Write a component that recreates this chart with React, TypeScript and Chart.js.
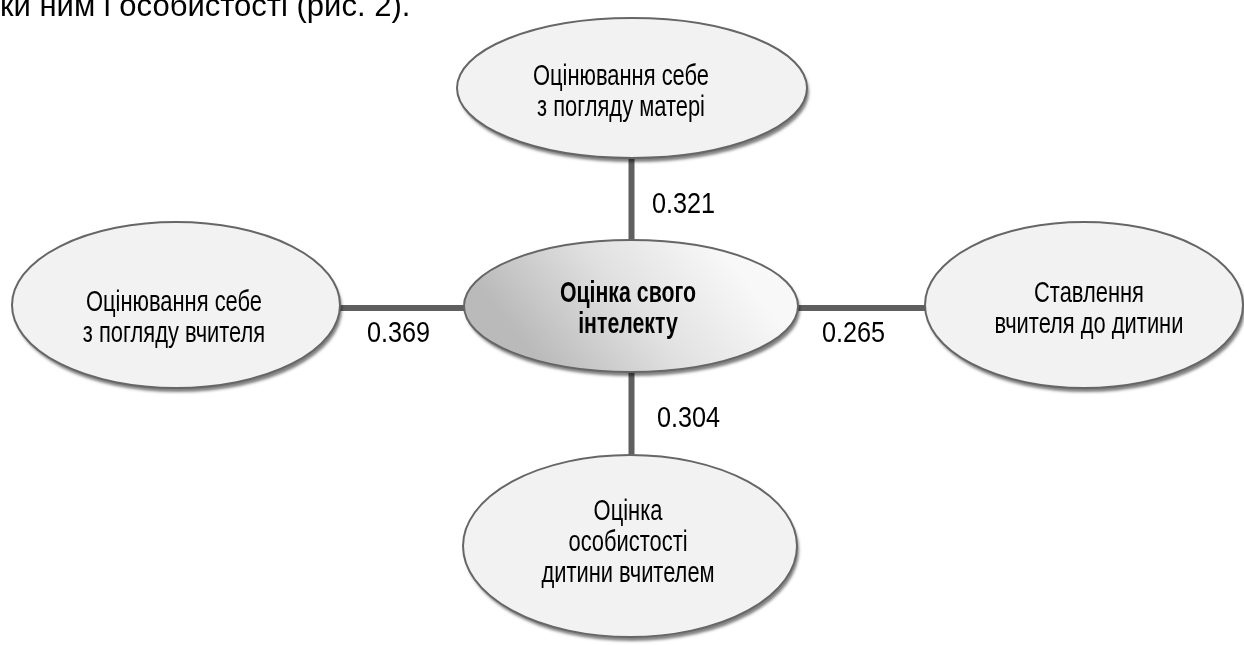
import React, { useEffect, useRef } from "react";
import { Chart, registerables } from "chart.js";

Chart.register(...registerables);

// ---- data ----
const nodeLabels: string[][] = [
  ["Оцінка свого", "інтелекту"],
  ["Оцінювання себе", "з погляду матері"],
  ["Оцінювання себе", "з погляду вчителя"],
  ["Ставлення", "вчителя до дитини"],
  ["Оцінка", "особистості", "дитини вчителем"],
];
// correlation of node 0 (centre) with nodes 1..4
const coefficients = [0.321, 0.369, 0.265, 0.304];
const captionText = "ки ним і особистості (рис. 2).";

// ---- layout (chart units == page pixels) ----
const W = 1244;
const H = 645;
const nodeX = [631, 632, 176, 1084, 630];
const nodeY = [306, 88, 305, 305, 546];
const nodeRx = [167, 175, 164, 159, 167];
const nodeRy = [66, 70, 83, 83, 91];
const textX = [628, 621, 174, 1089, 628];
const textTop = [302, 85, 311, 302, 520];
const lineGap = 31;
const edgeFromX = [631.5, 465, 797, 631.5];
const edgeFromY = [306, 308, 308, 306];
const edgeToX = [631.5, 176, 1084, 631.5];
const edgeToY = [88, 308, 308, 546];
const labelX = [652, 367, 822, 657];
const labelY = [213, 342, 342, 427];

const FONT = "'Liberation Sans', Arial, Helvetica, sans-serif";

function drawText(
  ctx: CanvasRenderingContext2D,
  text: string,
  x: number,
  y: number,
  font: string,
  sx: number,
  align: CanvasTextAlign
) {
  ctx.save();
  ctx.font = font;
  ctx.fillStyle = "#000";
  ctx.textAlign = align;
  ctx.textBaseline = "alphabetic";
  ctx.translate(x, y);
  ctx.scale(sx, 1);
  ctx.fillText(text, 0, 0);
  ctx.restore();
}

const diagramPlugin = {
  id: "diagram",
  afterDatasetsDraw(chart: any) {
    const ctx: CanvasRenderingContext2D = chart.ctx;
    const xs = chart.scales.x;
    const ys = chart.scales.y;
    const px = (v: number) => xs.getPixelForValue(v);
    const py = (v: number) => ys.getPixelForValue(v);

    // caption fragment at top (cut off by the page edge)
    drawText(ctx, captionText, px(0), py(16), `31px ${FONT}`, 1.0, "left");

    nodeLabels.forEach((lines, i) => {
      const cx = px(nodeX[i]);
      const cy = py(nodeY[i]);
      const rx = Math.abs(px(nodeX[i] + nodeRx[i]) - cx);
      const ry = Math.abs(py(nodeY[i] + nodeRy[i]) - cy);

      let fill: any = "#f2f2f2";
      if (i === 0) {
        const g = ctx.createLinearGradient(cx + rx * 0.5, cy - ry, cx - rx * 0.5, cy + ry);
        g.addColorStop(0, "#f8f8f8");
        g.addColorStop(0.5, "#e0e0e0");
        g.addColorStop(1, "#bababa");
        fill = g;
      }

      ctx.save();
      ctx.beginPath();
      ctx.ellipse(cx, cy, rx, ry, 0, 0, Math.PI * 2);
      ctx.shadowColor = "rgba(0,0,0,0.5)";
      ctx.shadowOffsetX = 2;
      ctx.shadowOffsetY = 4;
      ctx.shadowBlur = 3;
      ctx.fillStyle = fill;
      ctx.fill();
      ctx.restore();

      ctx.save();
      ctx.beginPath();
      ctx.ellipse(cx, cy, rx, ry, 0, 0, Math.PI * 2);
      ctx.lineWidth = 2;
      ctx.strokeStyle = "#666666";
      ctx.stroke();
      ctx.restore();

      const font = i === 0 ? `bold 30px ${FONT}` : `30px ${FONT}`;
      const sx = i === 0 ? 0.71 : 0.73;
      lines.forEach((t, k) => {
        drawText(ctx, t, px(textX[i]), py(textTop[i] + k * lineGap), font, sx, "center");
      });
    });

    coefficients.forEach((c, i) => {
      drawText(ctx, c.toFixed(3), px(labelX[i]), py(labelY[i]), `29px ${FONT}`, 0.87, "left");
    });
  },
};

export default function App() {
  const ref = useRef<HTMLCanvasElement | null>(null);

  useEffect(() => {
    document.body.style.margin = "0";
    document.body.style.background = "#fff";
    const canvas = ref.current;
    if (!canvas) return;
    const datasets = coefficients.map((_, i) => ({
      type: "line" as const,
      data: [
        { x: edgeFromX[i], y: edgeFromY[i] },
        { x: edgeToX[i], y: edgeToY[i] },
      ],
      borderColor: "#5f5f5f",
      borderWidth: 6,
      borderCapStyle: "butt" as const,
      pointRadius: 0,
      showLine: true,
      fill: false,
      clip: false as any,
    }));
    const chart = new Chart(canvas, {
      type: "scatter",
      data: { datasets: datasets as any },
      options: {
        animation: false,
        responsive: false,
        maintainAspectRatio: false,
        devicePixelRatio: 1,
        events: [],
        layout: { padding: 0 },
        plugins: { legend: { display: false }, tooltip: { enabled: false } },
        scales: {
          x: { type: "linear", min: 0, max: W, display: false },
          y: { type: "linear", min: 0, max: H, reverse: true, display: false },
        },
      },
      plugins: [diagramPlugin],
    });
    return () => chart.destroy();
  }, []);

  return (
    <div style={{ width: W, height: H, background: "#fff" }}>
      <canvas ref={ref} width={W} height={H} style={{ display: "block", width: W, height: H }} />
    </div>
  );
}
